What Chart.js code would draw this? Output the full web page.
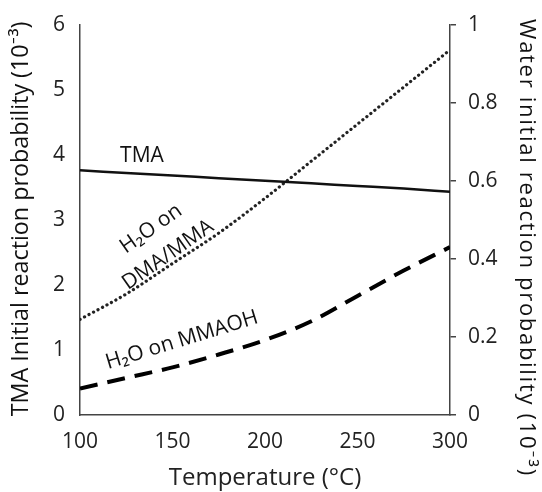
<!DOCTYPE html>
<html>
<head>
<meta charset="utf-8">
<script src="https://cdn.jsdelivr.net/npm/chart.js@4/dist/chart.umd.min.js"></script>
<style>
  body { margin: 0; background: #fff; }
  #wrap { width: 542px; height: 492px; }
</style>
</head>
<body>
<div id="wrap"><canvas id="myChart" width="542" height="492"></canvas></div>
<script>
// temperatures (°C)
const temps = [100, 125, 150, 175, 200, 225, 250, 275, 300];
// TMA initial reaction probability (10^-3), left axis
const tma = [3.76, 3.72, 3.68, 3.64, 3.60, 3.56, 3.52, 3.48, 3.43];
// water on DMA/MMA (10^-3), right axis
const waterDmaMma = [0.245, 0.31, 0.388, 0.466, 0.555, 0.65, 0.745, 0.84, 0.935];
// water on MMAOH (10^-3), right axis
const waterMmaoh = [0.068, 0.095, 0.122, 0.155, 0.192, 0.24, 0.305, 0.37, 0.43];

const leftTicks = [0, 1, 2, 3, 4, 5, 6];
const rightTicks = [0, 0.2, 0.4, 0.6, 0.8, 1];

// in-plot labels: text, x (°C), y (left axis units), angle (deg)
const labelText = ['TMA', 'H\u2082O on', 'DMA/MMA', 'H\u2082O on MMAOH'];
const labelX = [133.5, 138.4, 147.6, 155.1];
const labelY = [3.98, 2.86, 2.46, 1.15];
const labelAngle = [0, -35, -35, -17];

const leftTitle = 'TMA Initial reaction probability (10\u207B\u00B3)';
const rightTitle = 'Water initial reaction probability (10\u207B\u00B3)';

const FONT = '"Open Sans", Lato, sans-serif';

const toPoints = (ys) => temps.map((t, i) => ({ x: t, y: ys[i] }));

const labelPlugin = {
    id: 'inlineLabels',
    afterDatasetsDraw(chart) {
        const ctx = chart.ctx;
        const xs = chart.scales.x, ys = chart.scales.y;
        ctx.save();
        ctx.fillStyle = '#111';
        ctx.font = '21px ' + FONT;
        ctx.textAlign = 'center';
        ctx.textBaseline = 'middle';
        labelText.forEach((txt, i) => {
            ctx.save();
            ctx.translate(xs.getPixelForValue(labelX[i]), ys.getPixelForValue(labelY[i]));
            ctx.rotate(labelAngle[i] * Math.PI / 180);
            ctx.fillText(txt, 0, 0);
            ctx.restore();
        });
        // left axis title, reads bottom to top
        ctx.save();
        ctx.translate(21, 219);
        ctx.rotate(-Math.PI / 2);
        ctx.font = '23.3px ' + FONT;
        ctx.fillText(leftTitle, 0, 0);
        ctx.restore();
        // right axis title, reads top to bottom
        ctx.save();
        ctx.translate(526, 248);
        ctx.rotate(Math.PI / 2);
        ctx.font = '22px ' + FONT;
        ctx.letterSpacing = '1.7px';
        ctx.fillText(rightTitle, 0, 0);
        ctx.restore();
        ctx.restore();
    }
};

document.addEventListener('DOMContentLoaded', function () {
    const ctx = document.getElementById('myChart');

    new Chart(ctx, {
        type: 'line',
        data: {
            datasets: [
                {
                    label: 'TMA',
                    data: toPoints(tma),
                    yAxisID: 'y',
                    borderColor: '#111',
                    borderWidth: 2.5,
                    pointRadius: 0,
                    cubicInterpolationMode: 'monotone'
                },
                {
                    label: 'H2O on DMA/MMA',
                    data: toPoints(waterDmaMma),
                    yAxisID: 'y1',
                    borderColor: '#222',
                    borderWidth: 3.2,
                    borderDash: [0.1, 5],
                    borderCapStyle: 'round',
                    pointRadius: 0,
                    cubicInterpolationMode: 'monotone'
                },
                {
                    label: 'H2O on MMAOH',
                    data: toPoints(waterMmaoh),
                    yAxisID: 'y1',
                    borderColor: '#000',
                    borderWidth: 4,
                    borderDash: [18, 10],
                    pointRadius: 0,
                    cubicInterpolationMode: 'monotone'
                }
            ]
        },
        options: {
            responsive: false,
            animation: false,
            layout: { padding: { top: 23 } },
            plugins: {
                legend: { display: false },
                tooltip: { enabled: false }
            },
            scales: {
                x: {
                    type: 'linear',
                    min: 100,
                    max: 300,
                    grid: { display: false },
                    border: { color: '#444', width: 1.5 },
                    ticks: {
                        stepSize: 50,
                        color: '#222',
                        font: { size: 21, family: FONT },
                        padding: 6
                    },
                    title: {
                        display: true,
                        text: 'Temperature (\u00B0C)',
                        color: '#222',
                        font: { size: 24, family: FONT, lineHeight: 1 },
                        padding: { top: 0, bottom: 2 }
                    },
                    afterFit: (s) => { s.height = 77; }
                },
                y: {
                    position: 'left',
                    min: 0,
                    max: 6,
                    grid: { display: false },
                    border: { color: '#444', width: 1.5 },
                    afterBuildTicks: (s) => { s.ticks = leftTicks.map(v => ({ value: v })); },
                    ticks: {
                        color: '#222',
                        font: { size: 21, family: FONT },
                        padding: 7
                    },
                    title: { display: false },
                    afterFit: (s) => { s.width = 80; }
                },
                y1: {
                    position: 'right',
                    min: 0,
                    max: 1,
                    grid: {
                        drawOnChartArea: false,
                        color: '#444',
                        tickLength: 6,
                        lineWidth: 1.5
                    },
                    border: { color: '#444', width: 1.5 },
                    afterBuildTicks: (s) => { s.ticks = rightTicks.map(v => ({ value: v })); },
                    ticks: {
                        color: '#222',
                        font: { size: 21, family: FONT },
                        padding: 12,
                        callback: (v) => String(+v.toFixed(1))
                    },
                    title: { display: false },
                    afterFit: (s) => { s.width = 92; }
                }
            }
        },
        plugins: [labelPlugin]
    });
});
</script>
</body>
</html>
